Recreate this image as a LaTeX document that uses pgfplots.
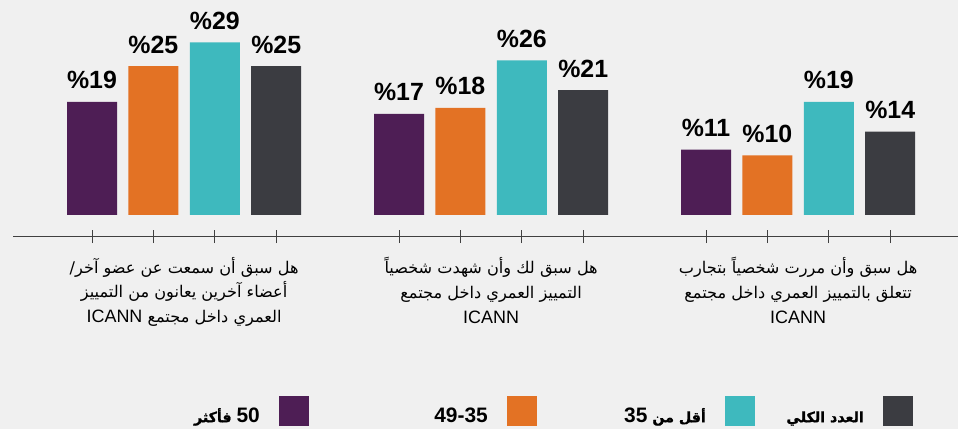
\documentclass[border=0pt]{standalone}
\usepackage{fontspec}
\setmainfont{Liberation Sans}
\newfontfamily\arabicfont[Script=Arabic,Scale=0.9]{DejaVu Sans}
\newfontfamily\arabicfontb[Script=Arabic,Scale=0.68,BoldFeatures={FakeBold=1.2}]{DejaVu Sans}
\usepackage{pgfplots}
\pgfplotsset{compat=1.18}
\TeXXeTstate=1
\definecolor{bg}{HTML}{F0F0F0}
\definecolor{cpurple}{HTML}{4E1E55}
\definecolor{corange}{HTML}{E37224}
\definecolor{cteal}{HTML}{3EB9BE}
\definecolor{cgray}{HTML}{3B3C41}
\definecolor{axline}{HTML}{404040}
\newcommand{\ar}[1]{{\arabicfont\beginR #1\endR}}
\newcommand{\arb}[1]{{\arabicfontb\beginR #1\endR}}
\newcommand{\lt}[1]{\beginL{\rmfamily #1}\endL{}}
\begin{document}
\begin{tikzpicture}
\useasboundingbox[fill=bg] (0,0) rectangle (958bp,429bp);
\begin{axis}[
  at={(13bp,192.3bp)}, anchor=south west,
  scale only axis, width=945bp, height=236.7bp,
  xmin=-1.287, xmax=14.104, ymin=-3.647, ymax=36.13,
  axis x line=bottom, axis y line=none,
  x axis line style={-, draw=axline, line width=0.9bp},
  clip=false,
  ybar, bar width=50bp, bar shift=0pt,
  xtick={0,1,2,3,5,6,7,8,10,11,12,13}, xticklabels={},
  xtick align=center, major tick length=13bp,
  x tick style={draw=axline, line width=0.9bp},
  ytick=\empty,
  extra x ticks={1.5,6.5,11.5},
  extra x tick labels={
    {\ar{هل سبق أن سمعت عن عضو آخر/}\\\ar{أعضاء آخرين يعانون من التمييز}\\\ar{العمري داخل مجتمع \lt{ICANN}}},
    {\ar{هل سبق لك وأن شهدت شخصياً}\\\ar{التمييز العمري داخل مجتمع}\\ICANN},
    {\ar{هل سبق وأن مررت شخصياً بتجارب}\\\ar{تتعلق بالتمييز العمري داخل مجتمع}\\ICANN}},
  extra x tick style={major tick length=0pt,
    tick label style={align=center, text=black, anchor=north, inner sep=0pt, yshift=-20bp,
      font=\fontsize{18}{25}\selectfont}},
  nodes near coords={\%\pgfmathprintnumber{\pgfplotspointmeta}},
  every node near coord/.append style={font=\fontsize{25}{30}\selectfont\bfseries,
    anchor=base, yshift=13bp, text=black},
  /pgf/number format/assume math mode=true,
  legend columns=4, legend plot pos=right,
  legend style={draw=none, fill=none, inner sep=0pt, column sep=0pt,
    at={(0.95238,-0.673)}, anchor=north east,
    cells={anchor=base, inner sep=0pt},
    font=\fontsize{21}{25}\selectfont\bfseries},
  legend image code/.code={\fill[#1] (0bp,-4bp) rectangle (30bp,26bp);},
]
\addplot[fill=cpurple, draw=none] coordinates {(0,19) (5,17) (10,11)};
\addplot[fill=corange, draw=none] coordinates {(1,25) (6,18) (11,10)};
\addplot[fill=cteal, draw=none] coordinates {(2,29) (7,26) (12,19)};
\addplot[fill=cgray, draw=none] coordinates {(3,25) (8,21) (13,14)};
\legend{
 \makebox[79bp][r]{\arb{\lt{50} فأكثر}\hspace{17bp}},
 \makebox[194bp][r]{49-35\hspace{17bp}},
 \makebox[184bp][r]{\arb{أقل من \lt{35}}\hspace{17bp}},
 \makebox[124bp][r]{\arb{العدد الكلي}\hspace{17bp}}}
\end{axis}
\end{tikzpicture}
\end{document}
